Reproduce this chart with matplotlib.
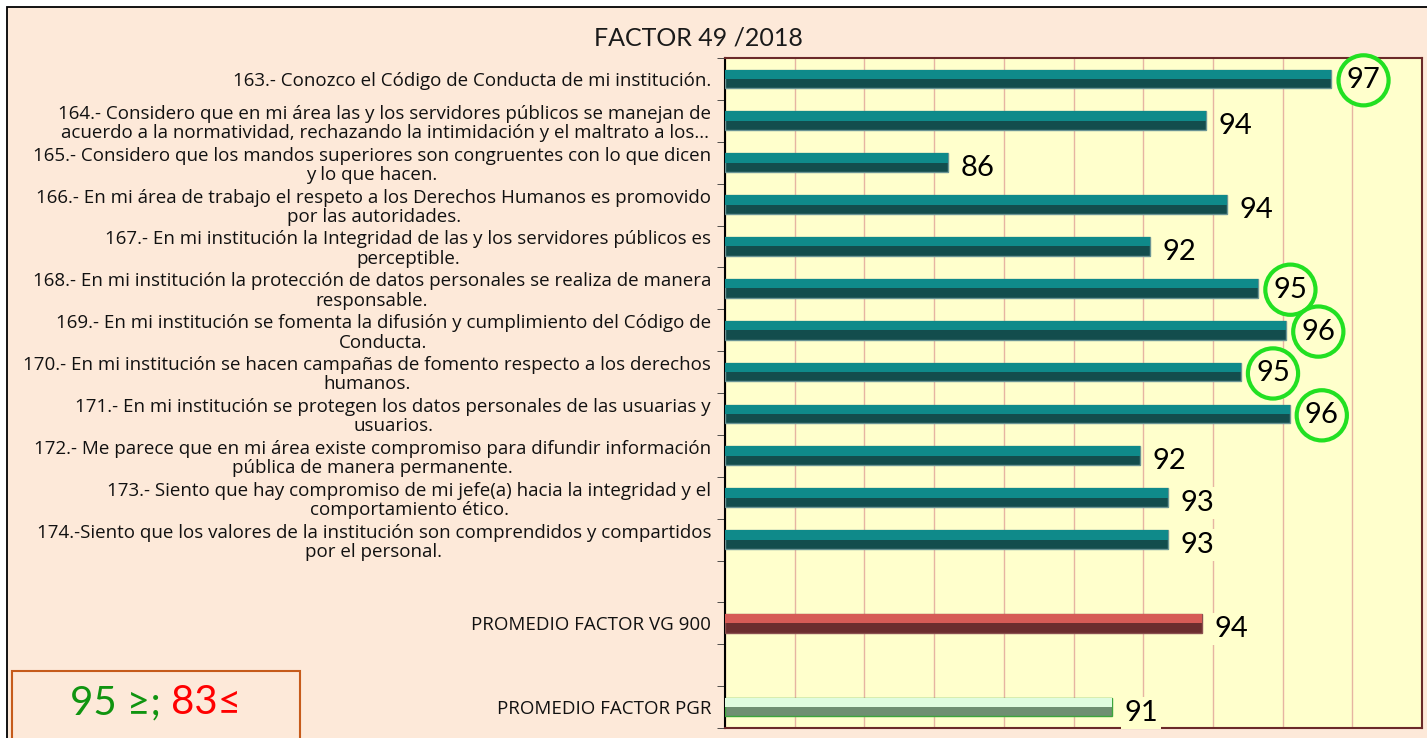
import matplotlib.pyplot as plt
from matplotlib.patches import Rectangle

# datos
preguntas = [
    "163.- Conozco el Código de Conducta de mi institución.",
    "164.- Considero que en mi área las y los servidores públicos se manejan de\nacuerdo a la normatividad, rechazando la intimidación y el maltrato a los...",
    "165.- Considero que los mandos superiores son congruentes con lo que dicen\ny lo que hacen.",
    "166.- En mi área de trabajo el respeto a los Derechos Humanos es promovido\npor las autoridades.",
    "167.- En mi institución la Integridad de las y los servidores públicos es\nperceptible.",
    "168.- En mi institución la protección de datos personales se realiza de manera\nresponsable.",
    "169.- En mi institución se fomenta la difusión y cumplimiento del Código de\nConducta.",
    "170.- En mi institución se hacen campañas de fomento respecto a los derechos\nhumanos.",
    "171.- En mi institución se protegen los datos personales de las usuarias y\nusuarios.",
    "172.- Me parece que en mi área existe compromiso para difundir información\npública de manera permanente.",
    "173.- Siento que hay compromiso de mi jefe(a) hacia la integridad y el\ncomportamiento ético.",
    "174.-Siento que los valores de la institución son comprendidos y compartidos\npor el personal.",
]
valores = [97.4, 93.8, 86.4, 94.4, 92.2, 95.3, 96.1, 94.8, 96.2, 91.9, 92.7, 92.7]

promedios = ["PROMEDIO FACTOR VG 900", "PROMEDIO FACTOR PGR"]
valores_prom = [93.7, 91.1]

umbral_verde = 95

W, H = 1427, 738
peach = '#FDE9D9'
amarillo = '#FFFFCC'

fig = plt.figure(figsize=(W / 100, H / 100), dpi=100)
fig.patch.set_facecolor('white')
fig.add_artist(Rectangle((7 / W, -0.02), 1.0, 1 - 7 / H + 0.02, transform=fig.transFigure,
                         facecolor=peach, edgecolor='black', lw=1.3, zorder=-2))

ax = fig.add_axes([725 / W, 10 / H, 697 / W, 670 / H])
ax.set_facecolor(amarillo)

# posiciones: 12 preguntas, hueco, VG 900, hueco, PGR
pos = list(range(len(preguntas)))
pos_prom = [len(preguntas) + 1, len(preguntas) + 3]

alto = 0.45


def barra(y, v, claro, oscuro, borde):
    ax.barh(y, v - 80, left=80, height=alto, color=oscuro, edgecolor=borde, lw=1, zorder=3)
    ax.barh(y - alto / 4, v - 80, left=80, height=alto / 2, color=claro, lw=0, zorder=3)


for y, v in zip(pos, valores):
    barra(y, v, '#0F8A8A', '#134D4D', '#6A9494')
barra(pos_prom[0], valores_prom[0], '#D65B56', '#6B2D2E', '#8A5050')
barra(pos_prom[1], valores_prom[1], '#DFFCDF', '#6F8F72', '#3DA53D')

# etiquetas de valor
for y, v in zip(pos + pos_prom, valores + valores_prom):
    txt = str(int(round(v)))
    if int(round(v)) >= umbral_verde:
        ax.annotate(txt, xy=(v, y), xytext=(11, -1), textcoords='offset points',
                    ha='left', va='center', fontsize=21, family='Lato', color='black',
                    bbox=dict(boxstyle='circle,pad=0.28', fc=amarillo, ec='#22E022', lw=3),
                    zorder=6, annotation_clip=False)
    else:
        ax.annotate(txt, xy=(v, y), xytext=(9, -4), textcoords='offset points',
                    ha='left', va='center', fontsize=21, family='Lato', color='black',
                    bbox=dict(boxstyle='square,pad=0.1', fc=amarillo, ec='none'),
                    zorder=6, annotation_clip=False)

ax.set_xlim(80, 100)
ax.set_ylim(len(preguntas) + 3.5, -0.5)
ax.set_xticks(range(80, 101, 2))
ax.xaxis.grid(True, color='#E6B4A2', lw=1)
ax.set_axisbelow(True)
ax.tick_params(axis='x', length=0, labelbottom=False)

ax.set_yticks(pos + pos_prom)
ax.set_yticklabels(preguntas + promedios, fontsize=13.5, family='Open Sans', color='#111111')
for lab in ax.get_yticklabels():
    lab.set_multialignment('center')
    lab.set_linespacing(1.1)
ax.tick_params(axis='y', which='major', length=0, pad=10)
ax.set_yticks([i - 0.5 for i in range(len(preguntas) + 5)], minor=True)
ax.tick_params(axis='y', which='minor', length=6, color='#333333')

for s in ['top', 'right', 'bottom']:
    ax.spines[s].set_color('#6B2A2A')
    ax.spines[s].set_linewidth(1.5)
ax.spines['left'].set_color('black')
ax.spines['left'].set_linewidth(1.5)

fig.text(698 / W, 1 - 38 / H, "FACTOR 49 /2018", ha='center', va='center',
         fontsize=18, family='Lato', color='#1A1A1A')

# recuadro de criterios
fig.add_artist(Rectangle((12 / W, -0.01), 288 / W, 74 / H, transform=fig.transFigure,
                         facecolor=peach, edgecolor='#C65B1B', lw=1.5, zorder=-1))
t1 = fig.text(70 / W, 1 - 703 / H, "95 ≥; ", ha='left', va='center',
              fontsize=29, family=['Lato', 'DejaVu Sans'], color='#109410')
ax.annotate("83≤", xy=(1, 0), xycoords=t1, ha='left', va='bottom',
            fontsize=29, family=['Lato', 'DejaVu Sans'], color='#FF0000',
            annotation_clip=False)

fig.savefig('out.png', dpi=100, facecolor=fig.get_facecolor())
